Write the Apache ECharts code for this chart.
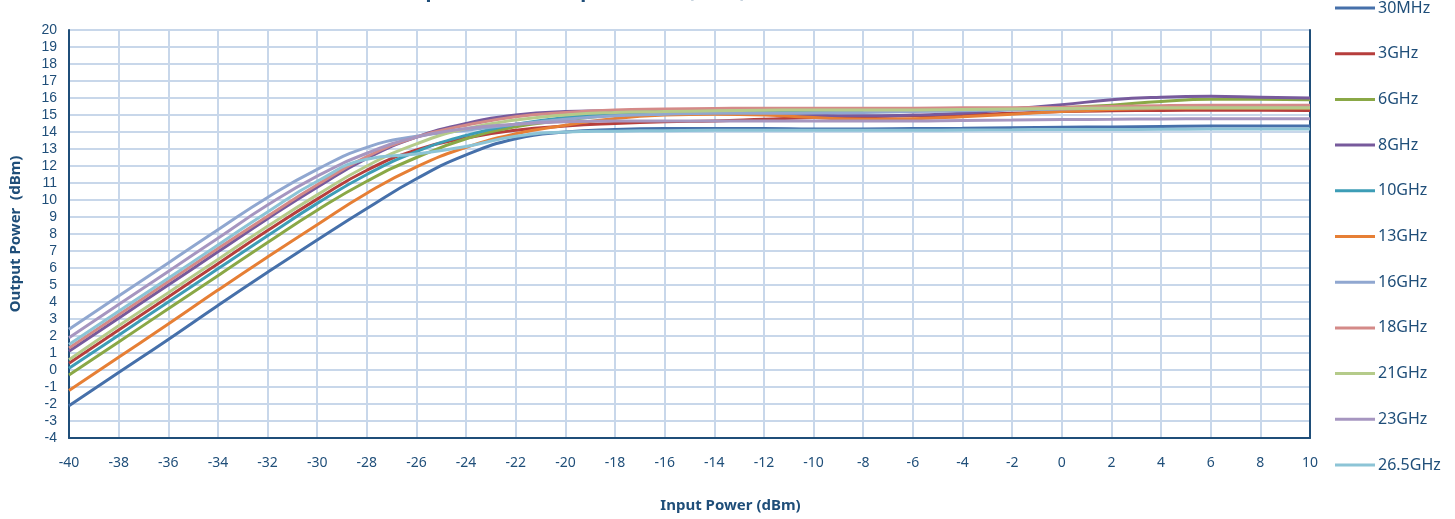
<!DOCTYPE html>
<html lang="en">
<head>
    <meta charset="UTF-8">
    <title>Output Power vs Input Power</title>
    <script src="https://cdn.jsdelivr.net/npm/echarts@6/dist/echarts.min.js"></script>
    <style>
        html, body { margin: 0; padding: 0; background: #fff; }
        #main { width: 1455px; height: 519px; }
    </style>
</head>
<body>
    <div id="main"></div>
    <script>
        // input power steps (dBm)
        const inputPower = [-40, -38, -36, -34, -32, -30, -28, -26, -24, -22, -20, -18, -16, -14, -12, -10, -8, -6, -4, -2, 0, 2, 4, 6, 8, 10]

        // output power per frequency (dBm)
        const p30MHz = [-2.1, -0.15, 1.8, 3.8, 5.75, 7.65, 9.5, 11.25, 12.65, 13.6, 14.0, 14.15, 14.2, 14.2, 14.2, 14.18, 14.18, 14.2, 14.22, 14.25, 14.28, 14.3, 14.33, 14.35, 14.35, 14.35]
        const p3GHz = [0.4, 2.35, 4.3, 6.25, 8.2, 10.05, 11.75, 12.95, 13.65, 14.1, 14.35, 14.5, 14.6, 14.65, 14.75, 14.85, 14.9, 14.95, 15.0, 15.1, 15.2, 15.25, 15.27, 15.28, 15.28, 15.27]
        const p6GHz = [-0.3, 1.65, 3.6, 5.55, 7.5, 9.4, 11.1, 12.5, 13.6, 14.3, 14.7, 15.0, 15.15, 15.2, 15.2, 15.22, 15.25, 15.28, 15.3, 15.35, 15.42, 15.58, 15.8, 15.92, 15.92, 15.9]
        const p8GHz = [1.1, 3.05, 5.0, 6.95, 8.9, 10.75, 12.45, 13.7, 14.5, 15.0, 15.2, 15.25, 15.25, 15.2, 15.1, 14.98, 14.95, 15.0, 15.1, 15.35, 15.6, 15.9, 16.05, 16.1, 16.05, 16.0]
        const p10GHz = [0.1, 2.05, 4.0, 5.95, 7.9, 9.8, 11.5, 12.85, 13.8, 14.45, 14.85, 15.05, 15.15, 15.2, 15.2, 15.22, 15.25, 15.28, 15.3, 15.32, 15.35, 15.38, 15.4, 15.4, 15.4, 15.4]
        const p13GHz = [-1.2, 0.75, 2.7, 4.7, 6.65, 8.55, 10.4, 11.95, 13.1, 13.9, 14.4, 14.8, 15.0, 15.05, 15.0, 14.85, 14.75, 14.78, 14.9, 15.05, 15.2, 15.32, 15.38, 15.4, 15.4, 15.4]
        const p16GHz = [2.4, 4.35, 6.3, 8.25, 10.15, 11.8, 13.1, 13.75, 14.1, 14.45, 14.75, 14.95, 15.05, 15.1, 15.1, 15.12, 15.15, 15.2, 15.25, 15.3, 15.35, 15.4, 15.42, 15.45, 15.45, 15.45]
        const p18GHz = [1.3, 3.25, 5.2, 7.15, 9.05, 10.9, 12.55, 13.7, 14.4, 14.9, 15.15, 15.3, 15.35, 15.38, 15.4, 15.4, 15.4, 15.4, 15.42, 15.43, 15.45, 15.5, 15.55, 15.57, 15.57, 15.57]
        const p21GHz = [0.6, 2.6, 4.55, 6.5, 8.45, 10.3, 12.0, 13.3, 14.2, 14.7, 15.0, 15.15, 15.2, 15.25, 15.28, 15.3, 15.3, 15.3, 15.32, 15.35, 15.38, 15.4, 15.42, 15.42, 15.42, 15.42]
        const p23GHz = [1.9, 3.85, 5.8, 7.75, 9.7, 11.4, 12.75, 13.7, 14.2, 14.45, 14.6, 14.65, 14.65, 14.65, 14.65, 14.65, 14.65, 14.65, 14.68, 14.7, 14.73, 14.75, 14.77, 14.78, 14.78, 14.78]
        const p26GHz = [1.5, 3.45, 5.4, 7.35, 9.3, 11.1, 12.4, 12.7, 13.15, 13.75, 14.0, 14.05, 14.08, 14.1, 14.1, 14.1, 14.1, 14.1, 14.12, 14.13, 14.15, 14.15, 14.16, 14.17, 14.17, 14.17]

        const names = ['30MHz', '3GHz', '6GHz', '8GHz', '10GHz', '13GHz', '16GHz', '18GHz', '21GHz', '23GHz', '26.5GHz']
        const values = [p30MHz, p3GHz, p6GHz, p8GHz, p10GHz, p13GHz, p16GHz, p18GHz, p21GHz, p23GHz, p26GHz]
        const colors = ['#4670aa', '#b63e3c', '#8aa846', '#775a9c', '#3d9db6', '#e67f35', '#90a7d0', '#d48a88', '#b5cb8a', '#a696c0', '#8cc4d6']

        const navy = '#1f4e79'
        const gridColor = '#c8d7ea'

        let chart = echarts.init(document.getElementById('main'))

        let series = names.map((n, k) => ({
            name: n,
            type: 'line',
            smooth: true,
            showSymbol: false,
            symbol: 'none',
            data: inputPower.map((x, i) => [x, values[k][i]]),
            lineStyle: { width: 3, color: colors[k] },
            itemStyle: { color: colors[k] }
        }))

        chart.setOption({
            animation: false,
            textStyle: { fontFamily: 'Noto Sans' },
            title: {
                text: 'Output Power vs Input Power (dBm)',
                left: 383,
                top: -24,
                textStyle: { color: navy, fontSize: 20, fontWeight: 'bold', fontFamily: 'Noto Sans' }
            },
            legend: {
                orient: 'vertical',
                left: 1330,
                top: -5,
                itemWidth: 40,
                itemHeight: 3,
                itemGap: 29.7,
                icon: 'rect',
                textStyle: { color: navy, fontSize: 16, padding: [0, 0, 0, -2] },
                data: names
            },
            grid: {
                left: 69,
                right: 145,
                top: 30,
                bottom: 81,
                containLabel: false
            },
            xAxis: {
                type: 'value',
                min: -40,
                max: 10,
                interval: 2,
                name: 'Input Power (dBm)',
                nameLocation: 'middle',
                nameGap: 60,
                nameTextStyle: { color: navy, fontSize: 15, fontWeight: 'bold', padding: [0, 0, 0, 82] },
                axisLine: { onZero: false, lineStyle: { color: navy, width: 2 } },
                axisTick: { show: false },
                axisLabel: { color: navy, fontSize: 14, margin: 18 },
                splitLine: { show: true, lineStyle: { color: gridColor, width: 2 } }
            },
            yAxis: [{
                type: 'value',
                min: -4,
                max: 20,
                interval: 1,
                name: 'Output Power  (dBm)',
                nameLocation: 'middle',
                nameGap: 46,
                nameTextStyle: { color: navy, fontSize: 15, fontWeight: 'bold' },
                axisLine: { show: true, onZero: false, lineStyle: { color: navy, width: 2 } },
                axisTick: { show: false },
                axisLabel: { color: navy, fontSize: 14, margin: 12, fontFamily: 'Liberation Sans' },
                splitLine: { show: true, lineStyle: { color: gridColor, width: 2 } }
            }, {
                type: 'value',
                min: -4,
                max: 20,
                interval: 1,
                position: 'right',
                axisLine: { show: true, onZero: false, lineStyle: { color: navy, width: 2 } },
                axisTick: { show: false },
                axisLabel: { show: false },
                splitLine: { show: false }
            }],
            series: series
        })
    </script>
</body>
</html>
